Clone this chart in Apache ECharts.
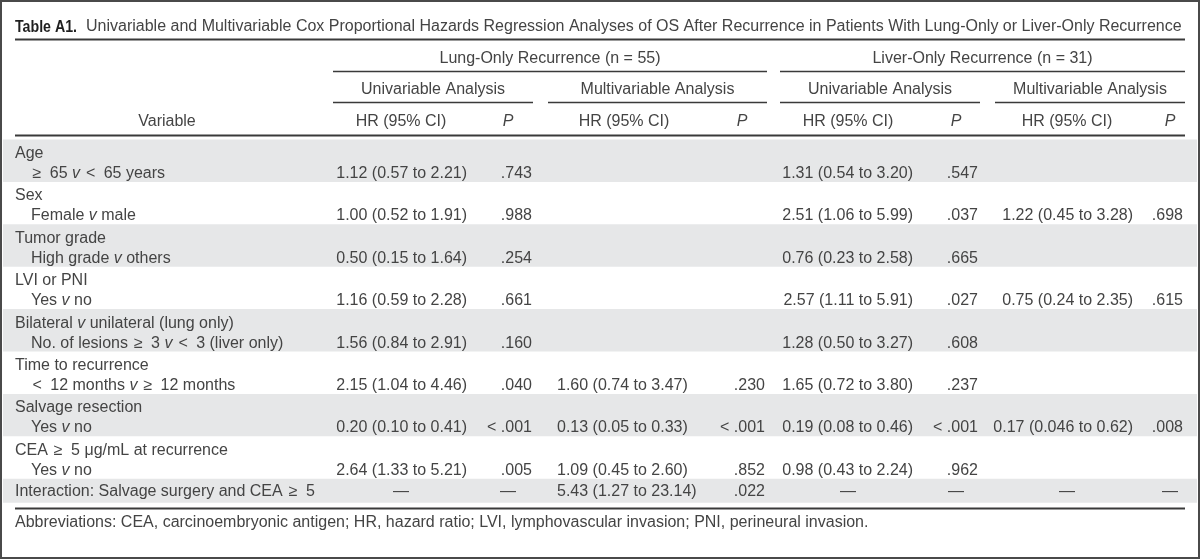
<!DOCTYPE html>
<html><head><meta charset="utf-8">
<script src="https://cdn.jsdelivr.net/npm/echarts@6/dist/echarts.min.js"></script>
<style>html,body{margin:0;padding:0;background:#fff}#c{width:1200px;height:559px}</style>
</head><body><div id="c"></div>
<script>
// ---------------- DATA ----------------
const tableLabel = 'Table A1.';
const tableTitle = 'Univariable and Multivariable Cox Proportional Hazards Regression Analyses of OS After Recurrence in Patients With Lung-Only or Liver-Only Recurrence';
const groupHeaders = ['Lung-Only Recurrence (n = 55)', 'Liver-Only Recurrence (n = 31)'];
const analysisHeaders = ['Univariable Analysis', 'Multivariable Analysis', 'Univariable Analysis', 'Multivariable Analysis'];
const columnHeaders = ['HR (95% CI)', '{i|P}', 'HR (95% CI)', '{i|P}', 'HR (95% CI)', '{i|P}', 'HR (95% CI)', '{i|P}'];
const variableHeader = 'Variable';
const variableGroups = ['Age', 'Sex', 'Tumor grade', 'LVI or PNI', 'Bilateral {i|v} unilateral (lung only)', 'Time to recurrence', 'Salvage resection', 'CEA \u2265 5 \u03bcg/mL at recurrence', 'Interaction: Salvage surgery and CEA \u2265 5'];
const variableComparisons = ['\u2265 65 {i|v} < 65 years', 'Female {i|v} male', 'High grade {i|v} others', 'Yes {i|v} no', 'No. of lesions \u2265 3 {i|v} < 3 (liver only)', '< 12 months {i|v} \u2265 12 months', 'Yes {i|v} no', 'Yes {i|v} no', ''];
const lungUniHR = ['1.12 (0.57 to 2.21)', '1.00 (0.52 to 1.91)', '0.50 (0.15 to 1.64)', '1.16 (0.59 to 2.28)', '1.56 (0.84 to 2.91)', '2.15 (1.04 to 4.46)', '0.20 (0.10 to 0.41)', '2.64 (1.33 to 5.21)', '\u2014'];
const lungUniP = ['.743', '.988', '.254', '.661', '.160', '.040', '< .001', '.005', '\u2014'];
const lungMultiHR = ['', '', '', '', '', '1.60 (0.74 to 3.47)', '0.13 (0.05 to 0.33)', '1.09 (0.45 to 2.60)', '5.43 (1.27 to 23.14)'];
const lungMultiP = ['', '', '', '', '', '.230', '< .001', '.852', '.022'];
const liverUniHR = ['1.31 (0.54 to 3.20)', '2.51 (1.06 to 5.99)', '0.76 (0.23 to 2.58)', '2.57 (1.11 to 5.91)', '1.28 (0.50 to 3.27)', '1.65 (0.72 to 3.80)', '0.19 (0.08 to 0.46)', '0.98 (0.43 to 2.24)', '\u2014'];
const liverUniP = ['.547', '.037', '.665', '.027', '.608', '.237', '< .001', '.962', '\u2014'];
const liverMultiHR = ['', '1.22 (0.45 to 3.28)', '', '0.75 (0.24 to 2.35)', '', '', '0.17 (0.046 to 0.62)', '', '\u2014'];
const liverMultiP = ['', '.698', '', '.615', '', '', '.008', '', '\u2014'];
const footnote = 'Abbreviations: CEA, carcinoembryonic antigen; HR, hazard ratio; LVI, lymphovascular invasion; PNI, perineural invasion.';

// ---------------- LAYOUT ----------------
const FONT = '"Liberation Sans", Arial, sans-serif';
const TXT = '#444444';
const RULE = '#3a3a3a';
const BAND = '#e6e7e8';
const FS = 16;
const L = {
  W: 1200, H: 559, left: 15, right: 1185, indent: 31,
  titleY: 27, titleX: 86, titleRule: 39.5,
  groupY: 59, groupRule: 71.5,
  analysisY: 90, analysisRule: 102.5,
  headerY: 122, headerRule: 135.5,
  bodyTop: 139.5, rowH: 42.4, lastRowH: 24, line1: 14, line2: 34,
  footRule: 508.5, footY: 523
};
const groupSpans = [[333, 767], [780, 1185]];
const analysisSpans = [[333, 533], [548, 767], [780, 980], [995, 1185]];
const valueCols = [
  { values: lungUniHR, x: 467, align: 'right', center: 401 },
  { values: lungUniP, x: 532, align: 'right', center: 508 },
  { values: lungMultiHR, x: 557, align: 'left', center: 624 },
  { values: lungMultiP, x: 765, align: 'right', center: 742 },
  { values: liverUniHR, x: 913, align: 'right', center: 848 },
  { values: liverUniP, x: 978, align: 'right', center: 956 },
  { values: liverMultiHR, x: 1133, align: 'right', center: 1067 },
  { values: liverMultiP, x: 1183, align: 'right', center: 1170 }
];

// relation symbols in the variable column are set a little wider in the source
const padSymbols = s => s.replace(/([\u2265<])/g, '{s|$1}');

// build mark lists
const texts = [], rules = [], bands = [];
function T(x, y, text, align, extra) { texts.push(Object.assign({ x, y, text, align }, extra || {})); }
function R(x1, y1, x2, y2, w) { rules.push([x1, y1, x2, y2, w]); }

T(L.left, L.titleY, tableLabel, 'left', { bold: true });
T(L.titleX, L.titleY, tableTitle, 'left');
R(L.left, L.titleRule, L.right, L.titleRule, 2);
groupHeaders.forEach((g, i) => {
  const s = groupSpans[i];
  T((s[0] + s[1]) / 2, L.groupY, g, 'center');
  R(s[0], L.groupRule, s[1], L.groupRule, 1.6);
});
analysisHeaders.forEach((a, i) => {
  const s = analysisSpans[i];
  T((s[0] + s[1]) / 2, L.analysisY, a, 'center');
  R(s[0], L.analysisRule, s[1], L.analysisRule, 1.6);
});
T(167, L.headerY, variableHeader, 'center');
columnHeaders.forEach((h, i) => T(valueCols[i].center, L.headerY, h, 'center'));
R(L.left, L.headerRule, L.right, L.headerRule, 2);

variableGroups.forEach((g, i) => {
  const last = i === variableGroups.length - 1;
  const top = L.bodyTop + i * L.rowH;
  const h = last ? L.lastRowH : L.rowH;
  if (i % 2 === 0) bands.push([3, top, 1197, top + h]);
  const y1 = last ? top + h / 2 + 1 : top + L.line1;
  const y2 = last ? y1 : top + L.line2;
  T(L.left, y1, padSymbols(g), 'left');
  if (variableComparisons[i]) T(L.indent, y2, padSymbols(variableComparisons[i]), 'left');
  valueCols.forEach(c => {
    const v = c.values[i];
    if (!v) return;
    if (v === '\u2014') T(c.center, y2, v, 'center');
    else T(c.x, y2, v, c.align);
  });
});
R(L.left, L.footRule, L.right, L.footRule, 2);
T(L.left, L.footY, footnote, 'left');

const rich = {
  i: { fontStyle: 'italic', fontSize: FS, fontFamily: FONT, fill: TXT, color: TXT },
  s: { fontSize: FS, fontFamily: FONT, fill: TXT, color: TXT, padding: [0, 4, 0, 1.5] }
};

const chart = echarts.init(document.getElementById('c'), null, { renderer: 'canvas' });
chart.setOption({
  animation: false,
  backgroundColor: '#fff',
  grid: { left: 0, right: 0, top: 0, bottom: 0, containLabel: false },
  xAxis: { type: 'value', min: 0, max: L.W, show: false },
  yAxis: { type: 'value', min: 0, max: L.H, inverse: true, show: false },
  series: [
    {
      type: 'custom', silent: true, clip: false, z: 1,
      data: bands,
      renderItem(params, api) {
        const a = api.coord([api.value(0), api.value(1)]);
        const b = api.coord([api.value(2), api.value(3)]);
        return { type: 'rect', shape: { x: a[0], y: a[1], width: b[0] - a[0], height: b[1] - a[1] }, style: { fill: BAND } };
      }
    },
    {
      type: 'custom', silent: true, clip: false, z: 2,
      data: rules,
      renderItem(params, api) {
        const a = api.coord([api.value(0), api.value(1)]);
        const b = api.coord([api.value(2), api.value(3)]);
        return { type: 'line', shape: { x1: a[0], y1: a[1], x2: b[0], y2: b[1] }, style: { stroke: RULE, lineWidth: api.value(4) } };
      }
    },
    {
      type: 'custom', silent: true, clip: false, z: 3,
      data: [[0, 0, L.W, L.H]],
      renderItem(params, api) {
        const a = api.coord([api.value(0), api.value(1)]);
        const b = api.coord([api.value(2), api.value(3)]);
        return { type: 'rect', shape: { x: a[0] + 1, y: a[1] + 1, width: b[0] - a[0] - 2, height: b[1] - a[1] - 2 }, style: { fill: 'none', stroke: '#4a4a4a', lineWidth: 2 } };
      }
    },
    {
      type: 'custom', silent: true, clip: false, z: 4,
      data: texts.map(t => [t.x, t.y]),
      renderItem(params, api) {
        const t = texts[params.dataIndex];
        const p = api.coord([api.value(0), api.value(1)]);
        return {
          type: 'text', x: p[0], y: p[1],
          scaleX: t.bold ? 0.86 : 1,
          style: {
            text: t.text, fill: t.bold ? '#1f1f1f' : TXT, fontSize: t.bold ? 16.5 : FS, fontFamily: FONT,
            fontWeight: t.bold ? 'bold' : 'normal',
            align: t.align, verticalAlign: 'middle', rich: rich
          }
        };
      }
    }
  ]
});
</script>
</body></html>
